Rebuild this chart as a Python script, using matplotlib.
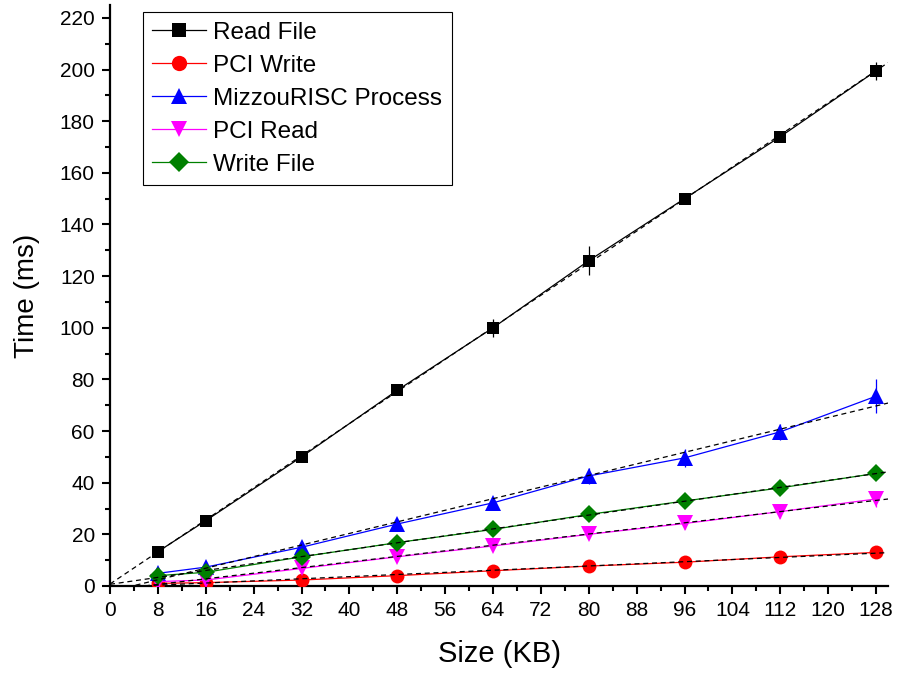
import numpy as np
import matplotlib
matplotlib.use("Agg")
import matplotlib.pyplot as plt
from matplotlib.ticker import MultipleLocator

plt.rcParams['font.family'] = ['Liberation Sans', 'DejaVu Sans']

sizes = [8, 16, 32, 48, 64, 80, 96, 112, 128]

read_file = [13.3, 25.3, 50.0, 75.8, 100.0, 126.0, 150.0, 174.0, 199.5]
read_file_err = [2.0, 1.0, 1.0, 1.0, 3.5, 5.5, 2.0, 1.0, 3.5]

pci_write = [1.0, 1.3, 2.3, 4.0, 5.9, 7.7, 9.2, 11.3, 13.0]
pci_write_err = [0.3, 0.3, 0.3, 0.3, 0.3, 0.3, 0.3, 0.3, 0.3]

mizzou = [4.9, 7.3, 15.0, 24.0, 32.2, 42.6, 49.6, 59.7, 73.5]
mizzou_err = [0.5, 0.5, 1.0, 1.5, 1.5, 3.0, 3.5, 3.0, 6.5]

pci_read = [1.7, 2.3, 6.8, 11.3, 15.5, 20.0, 24.2, 28.8, 33.7]
pci_read_err = [0.3, 0.5, 1.0, 1.0, 1.0, 1.0, 2.0, 2.5, 3.0]

write_file = [4.0, 5.3, 11.3, 16.8, 21.9, 27.7, 32.9, 38.0, 43.6]
write_file_err = [0.3, 0.3, 0.5, 0.5, 0.5, 0.5, 0.5, 0.5, 0.5]

series = [
    ("Read File", read_file, read_file_err, "black", "s", 9),
    ("PCI Write", pci_write, pci_write_err, "red", "o", 10),
    ("MizzouRISC Process", mizzou, mizzou_err, "blue", "^", 11),
    ("PCI Read", pci_read, pci_read_err, "magenta", "v", 11),
    ("Write File", write_file, write_file_err, "green", "D", 9),
]

fig = plt.figure(figsize=(8.99, 6.74), dpi=100)
ax = fig.add_axes([0.1224, 0.1306, 0.8654, 0.862])

x = np.array(sizes)
fit_x = np.array([0, 130])
handles = []
for label, y, err, color, marker, ms in series:
    cont = ax.errorbar(x, y, yerr=err, color=color, ecolor=color, elinewidth=0.9,
                       capsize=4.5, capthick=0.9, lw=0.9, marker=marker, markersize=ms,
                       markeredgewidth=0, label=label, zorder=3)
    handles.append(cont.lines[0])

# linear fits drawn over the data lines
for label, y, err, color, marker, ms in series:
    k, b = np.polyfit(x, y, 1)
    ax.plot(fit_x, k * fit_x + b, color="black", lw=0.9, ls=(0, (4, 3)), zorder=4)

ax.set_xlim(0, 130)
ax.set_ylim(0, 225)
ax.xaxis.set_minor_locator(MultipleLocator(4))
ax.yaxis.set_minor_locator(MultipleLocator(10))
ax.set_xticks(np.arange(0, 129, 8))
ax.set_yticks(np.arange(0, 221, 20))

ax.spines['top'].set_visible(False)
ax.spines['right'].set_visible(False)
for s in ['left', 'bottom']:
    ax.spines[s].set_linewidth(1.6)
ax.tick_params(which='major', direction='out', length=6, width=1.5, labelsize=15, pad=5)
ax.tick_params(which='minor', direction='out', length=3.5, width=1.5)

ax.set_xlabel("Size (KB)", fontsize=21, labelpad=14)
ax.set_ylabel("Time (ms)", fontsize=20, labelpad=14)

leg = ax.legend(handles, [s[0] for s in series], loc='upper left',
                bbox_to_anchor=(0.042, 0.988), borderaxespad=0,
                fontsize=17.5, numpoints=1, handlelength=2.2, handletextpad=0.3,
                labelspacing=0.45, fancybox=False, edgecolor='black', framealpha=1,
                borderpad=0.4, markerscale=1.1)
leg.get_frame().set_linewidth(0.8)

fig.savefig("out.png", dpi=100)
